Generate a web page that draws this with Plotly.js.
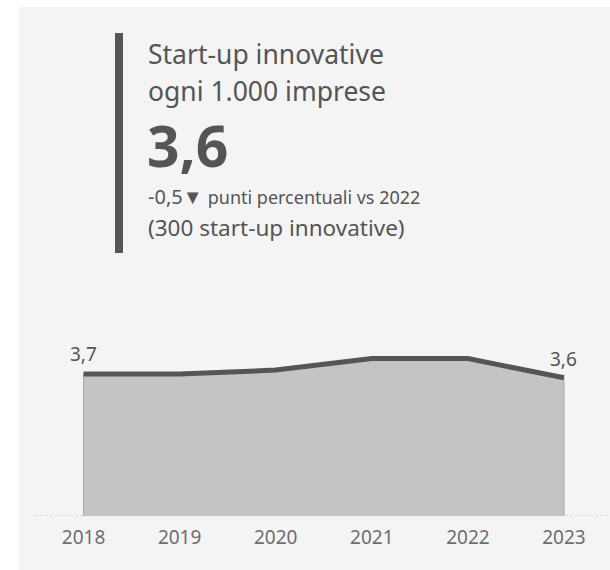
<!DOCTYPE html>
<html>
<head>
<meta charset="utf-8">
<script src="https://cdn.plot.ly/plotly-3.0.1.min.js"></script>
<style>
  html, body { margin: 0; padding: 0; background: #ffffff; width: 610px; height: 570px; overflow: hidden; }
  #chart { position: absolute; left: 19px; top: 7px; width: 591px; height: 563px; }
</style>
</head>
<body>
<div id="chart"></div>
<script>
// ---- data ----
const years = [2018, 2019, 2020, 2021, 2022, 2023];
const values = [3.7, 3.7, 3.8, 4.1, 4.1, 3.6];
const titleLine1 = "Start-up innovative";
const titleLine2 = "ogni 1.000 imprese";
const kpiValue = "3,6";
const deltaValue = "-0,5";
const deltaText = "punti percentuali vs 2022";
const countText = "(300 start-up innovative)";

// ---- layout helpers (page pixel -> paper coords) ----
const W = 591, H = 563, OX = 19, OY = 7;
const M = { l: 16, r: 0, t: 279, b: 54 };
const plotW = W - M.l - M.r, plotH = H - M.t - M.b;
const px = x => (x - OX - M.l) / plotW;
const py = y => (H - M.b - (y - OY)) / plotH;

const fmt = v => v.toFixed(1).replace('.', ',');
const FONT = "Noto Sans, sans-serif";
const TXT = "#555555";

const polyX = [years[0]].concat(years, [years[years.length - 1]]);
const polyY = [0].concat(values, [0]);

const traces = [
  { x: polyX, y: polyY, type: 'scatter', mode: 'lines', fill: 'toself',
    fillcolor: '#c4c4c4', line: { color: '#ababab', width: 1 }, hoverinfo: 'skip' },
  { x: years, y: values, type: 'scatter', mode: 'lines',
    line: { color: '#555555', width: 5 }, hoverinfo: 'skip' }
];

const annotations = [
  { text: titleLine1, x: px(146), y: py(54), xanchor: 'left', yanchor: 'middle',
    font: { family: FONT, size: 26.5, color: TXT } },
  { text: titleLine2, x: px(146), y: py(91), xanchor: 'left', yanchor: 'middle',
    font: { family: FONT, size: 26.5, color: TXT } },
  { text: '<b>' + kpiValue + '</b>', x: px(145), y: py(145), xanchor: 'left', yanchor: 'middle',
    font: { family: FONT, size: 57, color: TXT } },
  { text: deltaValue + '▼ <span style="font-size:18px">' + deltaText + '</span>',
    x: px(146), y: py(196), xanchor: 'left', yanchor: 'middle',
    font: { family: FONT, size: 20, color: TXT } },
  { text: countText, x: px(146), y: py(228), xanchor: 'left', yanchor: 'middle',
    font: { family: FONT, size: 22.5, color: TXT } },
  { text: fmt(values[0]), x: years[0], y: values[0], xref: 'x', yref: 'y',
    showarrow: false, yanchor: 'middle', xanchor: 'center', yshift: 20,
    font: { family: FONT, size: 19, color: TXT } },
  { text: fmt(values[values.length - 1]), x: years[years.length - 1], y: values[values.length - 1],
    xref: 'x', yref: 'y', showarrow: false, yanchor: 'middle', xanchor: 'center', yshift: 19,
    font: { family: FONT, size: 19, color: TXT } }
].map(a => Object.assign({ xref: 'paper', yref: 'paper', showarrow: false }, a));

const layout = {
  width: W, height: H,
  margin: M,
  paper_bgcolor: '#f4f4f4',
  plot_bgcolor: 'rgba(0,0,0,0)',
  showlegend: false,
  xaxis: {
    range: [2017.495, 2023.479], tickvals: years, ticktext: years.map(String),
    showgrid: false, zeroline: false, showline: false, ticks: '',
    ticklabelstandoff: 8,
    tickfont: { family: FONT, size: 19, color: '#6e6e6e' }, fixedrange: true
  },
  yaxis: {
    range: [0, 5.99], showgrid: false, zeroline: false, showline: false,
    showticklabels: false, ticks: '', fixedrange: true
  },
  shapes: [
    { type: 'line', xref: 'paper', yref: 'y', x0: 0, x1: 1, y0: 0, y1: 0,
      line: { color: '#c8c8c8', width: 1, dash: '3px,2px' }, layer: 'below' },
    { type: 'rect', xref: 'paper', yref: 'paper', x0: px(115), x1: px(123), y0: py(253), y1: py(33),
      fillcolor: '#555555', line: { width: 0 } }
  ],
  annotations: annotations
};

Plotly.newPlot('chart', traces, layout, { displayModeBar: false, staticPlot: true });
</script>
</body>
</html>
